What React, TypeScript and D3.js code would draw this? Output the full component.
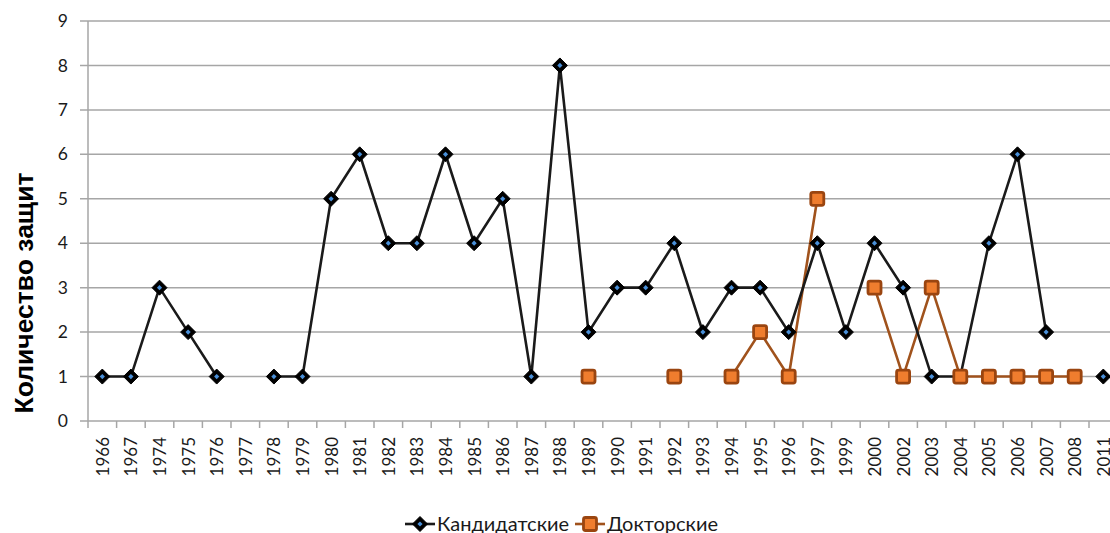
import React from "react";
import * as d3 from "d3";

const years = ["1966","1967","1974","1975","1976","1977","1978","1979","1980","1981","1982","1983","1984","1985","1986","1987","1988","1989","1990","1991","1992","1993","1994","1995","1996","1997","1999","2000","2002","2003","2004","2005","2006","2007","2008","2011"];
const candidate: (number | null)[] = [1,1,3,2,1,null,1,1,5,6,4,4,6,4,5,1,8,2,3,3,4,2,3,3,2,4,2,4,3,1,1,4,6,2,null,1];
const doctoral: (number | null)[] = [null,null,null,null,null,null,null,null,null,null,null,null,null,null,null,null,null,1,null,null,1,null,1,2,1,5,null,3,1,3,1,1,1,1,1,null];
const yTicks = [0,1,2,3,4,5,6,7,8,9];
const seriesNames = ["Кандидатские", "Докторские"];

const W = 1110, H = 533;
const left = 88, top = 21, bottom = 421;
const band = 28.6;
const right = left + band * years.length;

export default function App() {
  const x = d3.scaleBand<string>().domain(years).range([left, right]).padding(0);
  const y = d3.scaleLinear().domain([0, 9]).range([bottom, top]);
  const cx = (yr: string) => (x(yr) as number) + x.bandwidth() / 2;
  const line = d3.line<{ yr: string; v: number | null }>()
    .defined((d) => d.v !== null)
    .x((d) => cx(d.yr))
    .y((d) => y(d.v as number));
  const cData = years.map((yr, i) => ({ yr, v: candidate[i] }));
  const dData = years.map((yr, i) => ({ yr, v: doctoral[i] }));
  const font = "Lato, 'Open Sans', sans-serif";
  const diamond = (px: number, py: number, k: string | number) => (
    <g key={k}>
      <path d={`M${px},${py - 7.5}L${px + 7.5},${py}L${px},${py + 7.5}L${px - 7.5},${py}Z`} fill="#000" stroke="#000" strokeWidth={1} strokeLinejoin="round" />
      <path d={`M${px},${py - 2.6}L${px + 2.6},${py}L${px},${py + 2.6}L${px - 2.6},${py}Z`} fill="#4a90d9" />
    </g>
  );
  const square = (px: number, py: number, k: string | number) => (
    <rect key={k} x={px - 6.5} y={py - 6.5} width={13} height={13} rx={2} fill="#ef7d2e" stroke="#9a4510" strokeWidth={2.8} />
  );
  return (
    <svg width={W} height={H} style={{ position: "absolute", left: 0, top: 0, background: "#fff" }}>
      {yTicks.map((t) => (
        <g key={t}>
          <line x1={left - 8} x2={right} y1={y(t)} y2={y(t)} stroke="#a6a6a6" strokeWidth={1.5} />
          <text x={left - 20} y={y(t)} dy="0.35em" textAnchor="end" fontFamily={font} fontSize={17.5} fill="#1a1a1a">{t}</text>
        </g>
      ))}
      <line x1={left} x2={left} y1={top} y2={bottom} stroke="#a6a6a6" strokeWidth={1.5} />
      {years.map((yr, i) => (
        <line key={"t" + i} x1={(x(yr) as number)} x2={(x(yr) as number)} y1={bottom} y2={bottom + 7} stroke="#a6a6a6" strokeWidth={1.5} />
      ))}
      {years.map((yr) => (
        <text key={"l" + yr} transform={`translate(${cx(yr) + 6.5},${437}) rotate(-90)`} textAnchor="end" fontFamily={font} fontSize={17} fill="#1a1a1a">{yr}</text>
      ))}
      <text transform={`translate(${33},${293}) rotate(-90)`} textAnchor="middle" fontFamily="'Liberation Sans', Arial, sans-serif" fontWeight="bold" fontSize={26.5} fill="#000">Количество защит</text>
      <path d={line(dData) || ""} fill="none" stroke="#a0521c" strokeWidth={2.6} />
      <path d={line(cData) || ""} fill="none" stroke="#1a1a1a" strokeWidth={2.6} />
      {cData.filter((d) => d.v !== null).map((d) => diamond(cx(d.yr), y(d.v as number), d.yr))}
      {dData.filter((d) => d.v !== null).map((d) => square(cx(d.yr), y(d.v as number), d.yr))}
      <g>
        <line x1={405} x2={435} y1={524} y2={524} stroke="#1a1a1a" strokeWidth={2.6} />
        {diamond(420, 524, "lg1")}
        <text x={437} y={531} fontFamily={font} fontSize={20} fill="#1a1a1a">{seriesNames[0]}</text>
        <line x1={575} x2={605} y1={524} y2={524} stroke="#a0521c" strokeWidth={2.6} />
        {square(590, 524, "lg2")}
        <text x={607} y={531} fontFamily={font} fontSize={20} fill="#1a1a1a">{seriesNames[1]}</text>
      </g>
    </svg>
  );
}
